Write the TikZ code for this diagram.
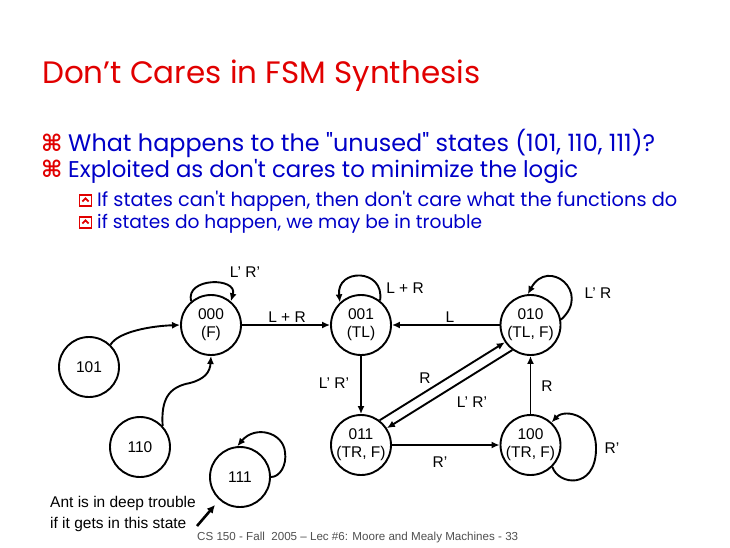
\documentclass[tikz,border=0pt]{standalone}
\usepackage{fontspec}
\setmainfont{Liberation Sans}
\newfontfamily\titlefont{Poppins}
\newfontfamily\symfont{DejaVu Sans}
\usetikzlibrary{arrows.meta}
\definecolor{tred}{RGB}{225,0,0}
\definecolor{tblue}{RGB}{0,0,200}
\definecolor{footgray}{RGB}{80,80,80}
\tikzset{
  st/.style={circle,draw,line width=1.9pt,minimum size=60pt,inner sep=0pt,align=center,font=\fontsize{15.5}{18}\selectfont},
  arr/.style={line width=1.9pt,-{Latex[length=8pt,width=7pt]}},
  lbl/.style={font=\fontsize{15.5}{18}\selectfont,inner sep=0pt},
  txt/.style={anchor=base west,inner sep=0pt},
  icon/.style={tred,line width=1.6pt},
}
\begin{document}
\begin{tikzpicture}[x=1pt,y=-1pt]
\fill[white] (0,0) rectangle (730,547);
\useasboundingbox (0,0) rectangle (730,547);

% title and bullets
\node[txt,text=tred] (title) at (42,83) {\resizebox{438pt}{!}{\titlefont\fontsize{28}{30}\selectfont Don’t Cares in FSM Synthesis}};
\node[txt,text=tred] (b1) at (41,151) {\symfont\bfseries\fontsize{23}{23}\selectfont ⌘};
\node[txt,text=tblue] (t1) at (68,151) {\resizebox{587pt}{!}{\titlefont\fontsize{22}{24}\selectfont What happens to the "unused" states (101, 110, 111)?}};
\node[txt,text=tred] (b2) at (41,177) {\symfont\bfseries\fontsize{23}{23}\selectfont ⌘};
\node[txt,text=tblue] (t2) at (68,177) {\resizebox{510pt}{!}{\titlefont\fontsize{22}{24}\selectfont Exploited as don't cares to minimize the logic}};
\draw[icon] (79.5,195) rectangle (91.5,206);
\draw[icon,line width=1.8pt] (82.3,201.5) -- (85.5,198.3) -- (88.7,201.5);
\node[txt,text=tblue] (t3) at (97,206) {\resizebox{580pt}{!}{\titlefont\fontsize{18}{20}\selectfont If states can't happen, then don't care what the functions do}};
\draw[icon] (79.5,217) rectangle (91.5,228);
\draw[icon,line width=1.8pt] (82.3,223.5) -- (85.5,220.3) -- (88.7,223.5);
\node[txt,text=tblue] (t4) at (97,228) {\resizebox{385pt}{!}{\titlefont\fontsize{18}{20}\selectfont if states do happen, we may be in trouble}};

% states
\node[st] (s000) at (211,325) {000\\(F)};
\node[st] (s001) at (361,325) {001\\(TL)};
\node[st] (s010) at (530.5,325) {010\\(TL, F)};
\node[st] (s101) at (89,367) {101};
\node[st] (s110) at (140,447) {110};
\node[st] (s111) at (240,477) {111};
\node[st] (s011) at (361,445) {011\\(TR, F)};
\node[st] (s100) at (530.5,445) {100\\(TR, F)};

% transitions
\draw[arr] (s000) -- (s001);
\draw[arr] (s010) -- (s001);
\draw[arr] (s001) -- (s011);
\draw[arr] (s011.53) -- (s010.214);
\draw[arr] (s010.234) -- (s011.33);
\draw[arr] (s100) -- (s010);
\draw[arr] (s011) -- (s100);
\draw[arr] (s101.46) .. controls (118,332) and (150,326) .. (s000.west);
\draw[arr] (s110.43) .. controls (161,400) and (168,387) .. (190,383) .. controls (205,379) and (210,372) .. (s000.south);

% self loops
\draw[arr] (s000.130) .. controls (185,277) and (238,277) .. (s000.50);
\draw[arr] (s001.52) .. controls (385,268) and (336,268) .. (s001.133);
\draw[arr] (s010.10) .. controls (592,292) and (548,257) .. (s010.95);
\draw[arr] (s100.-45) .. controls (558,485) and (595,490) .. (596,450) .. controls (597,415) and (565,408) .. (s100.47);
\draw[arr] (s111.0) .. controls (280,477) and (287,465) .. (285,452) .. controls (283,432) and (255,425) .. (s111.95);

% labels
\node[lbl] (l1) at (245,272) {L’ R’};
\node[lbl] (l2) at (287,317) {L + R};
\node[lbl] (l3) at (405,288) {L + R};
\node[lbl] (l4) at (450,317) {L};
\node[lbl] (l5) at (598,293) {L’ R};
\node[lbl] (l6) at (334,383) {L’ R’};
\node[lbl] (l7) at (425,378) {R};
\node[lbl] (l8) at (472,402) {L’ R’};
\node[lbl] (l9) at (547,386) {R};
\node[lbl] (l10) at (440,462) {R’};
\node[lbl] (l11) at (612,448) {R’};

% annotation
\node[lbl,anchor=base west,align=left,font=\fontsize{15.5}{21}\selectfont] (ant) at (50,528) {Ant is in deep trouble\\if it gets in this state};
\coordinate (antend) at (197,526);
\draw[line width=2.6pt,-{Latex[length=8pt,width=8pt]}] (antend) -- (215,505);

% footer
\node[txt,text=footgray] (foot) at (197,540) {\resizebox{321pt}{!}{\fontsize{10.5}{12}\selectfont CS 150 - Fall\ \ 2005 – Lec \#6: Moore and Mealy Machines - 33}};
\end{tikzpicture}
\end{document}
